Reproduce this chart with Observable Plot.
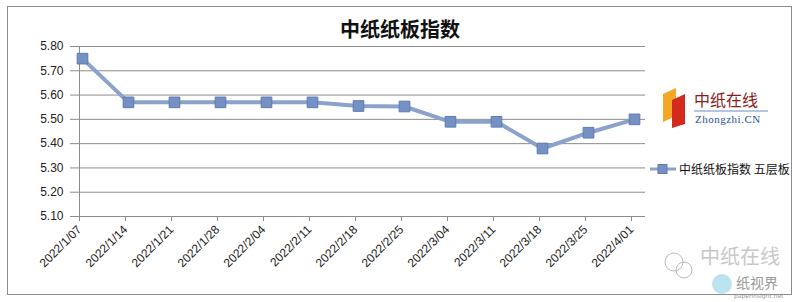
<!DOCTYPE html>
<html><head><meta charset="utf-8">
<script src="https://cdn.jsdelivr.net/npm/d3@7"></script>
<script src="https://cdn.jsdelivr.net/npm/@observablehq/plot@0.6"></script>
<style>
body{margin:0;background:#fff;font-family:"Noto Sans CJK SC",sans-serif;}
#wrap{position:relative;width:800px;height:302px;overflow:hidden;}
#border{position:absolute;left:7px;top:6px;width:785px;height:289px;border:1px solid #8c8c8c;box-sizing:border-box;}
#title{position:absolute;left:0;top:14px;width:800px;text-align:center;font-size:20px;font-weight:bold;color:#111;}
#legend{position:absolute;left:650px;top:160px;font-size:12px;color:#111;display:flex;align-items:center;}
#logo{position:absolute;left:660px;top:86px;}
#wm{position:absolute;left:660px;top:242px;}
#chart{position:absolute;left:0;top:0;}
</style></head>
<body><div id="wrap"><div id="chart"></div><div id="border"></div><div id="title">中纸纸板指数</div>
<div id="logo"><svg width="110" height="42">
<polygon points="3,8 16,2 16,30 3,36" fill="#f5a623"/>
<polygon points="12,14 25,8 25,38 12,42" fill="#d42a1e"/>
<text x="34" y="20" font-size="16" fill="#8a1c1c" font-family="Noto Sans CJK SC">中纸在线</text>
<line x1="34" y1="25" x2="108" y2="25" stroke="#6b8cc4" stroke-width="1"/>
<text x="35" y="37" font-size="11" fill="#2a4f9c" font-family="Liberation Serif" letter-spacing="0.5">Zhongzhi.CN</text>
</svg></div>
<div id="legend"><svg width="27" height="12"><line x1="0" y1="6" x2="26" y2="6" stroke="#8aa2cc" stroke-width="3"/><rect x="8" y="1.5" width="9" height="9" fill="#7591c4" stroke="#5e7bb0"/></svg><span style="margin-left:2px">中纸纸板指数 五层板</span></div>
<div id="wm"><svg width="135" height="60">
<circle cx="14" cy="20" r="9" fill="none" stroke="#bbb"/><circle cx="24" cy="28" r="8" fill="none" stroke="#bbb"/>
<text x="40" y="22" font-size="20" fill="#c8c8c8" font-family="Noto Sans CJK SC">中纸在线</text>
<circle cx="62" cy="42" r="10" fill="#8fd0e6" opacity="0.6"/>
<text x="76" y="46" font-size="14" fill="#9a9a9a" font-family="Noto Sans CJK SC">纸视界</text>
<text x="74" y="56" font-size="6" fill="#999" font-family="DejaVu Sans">paperinsight.net</text>
</svg></div>
</div>
<script>
const dates = ["2022/1/07","2022/1/14","2022/1/21","2022/1/28","2022/2/04","2022/2/11","2022/2/18","2022/2/25","2022/3/04","2022/3/11","2022/3/18","2022/3/25","2022/4/01"];
const values = [5.75,5.57,5.57,5.57,5.57,5.57,5.555,5.553,5.49,5.49,5.38,5.445,5.50];
const yTicks = [5.10,5.20,5.30,5.40,5.50,5.60,5.70,5.80];
const data = dates.map((d,i)=>({d, v: values[i]}));

const chart = Plot.plot({
  width: 800, height: 302,
  marginLeft: 74, marginRight: 155, marginTop: 46, marginBottom: 86,
  style: {fontFamily: "Liberation Sans, sans-serif", fontSize: "12px", color: "#222", background: "transparent"},
  x: {type: "point", domain: dates, padding: 0, range: [77, 639], label: null},
  y: {domain: [5.1, 5.8], label: null},
  marks: [
    Plot.ruleY(yTicks, {stroke: "#8c8c8c", strokeWidth: 1}),
    Plot.ruleX([dates[0]], {dx: -3, stroke: "#8c8c8c"}),
    Plot.axisY({ticks: yTicks, tickFormat: d3.format(".2f"), tickSize: 4, tickPadding: 7, stroke: "#8c8c8c", fontSize: 12, fill: "#222"}),
    Plot.axisX({tickRotate: -45, tickSize: 5, tickPadding: 6, dx: -3, stroke: "#8c8c8c", fontSize: 12, fill: "#222"}),
    Plot.line(data, {x: "d", y: "v", stroke: "#8aa2cc", strokeWidth: 4}),
    Plot.dot(data, {x: "d", y: "v", symbol: "square", r: 6, fill: "#7591c4", stroke: "#5e7bb0", strokeWidth: 1})
  ]
});
document.getElementById("chart").appendChild(chart);
</script>
</body></html>
